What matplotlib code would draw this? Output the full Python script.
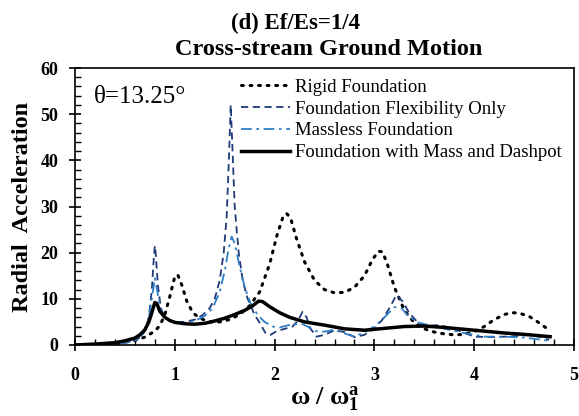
import matplotlib
matplotlib.use("Agg")
import matplotlib.pyplot as plt
from matplotlib.ticker import MultipleLocator

plt.rcParams['font.family'] = ['Liberation Serif', 'DejaVu Serif']
plt.rcParams['mathtext.fontset'] = 'custom'
plt.rcParams['mathtext.rm'] = 'Liberation Serif'
plt.rcParams['mathtext.it'] = 'Liberation Serif:italic'
plt.rcParams['mathtext.bf'] = 'Liberation Serif:bold'

# ---------------- data ----------------
rigid_x = [0, 0.2, 0.4, 0.5, 0.6, 0.7, 0.8, 0.85, 0.9, 0.95, 1.0, 1.03, 1.07, 1.12, 1.18, 1.25,
           1.35, 1.45, 1.55, 1.65, 1.75, 1.85, 1.95, 2.02, 2.08, 2.12, 2.16, 2.22, 2.3, 2.4, 2.5,
           2.6, 2.7, 2.8, 2.9, 2.98, 3.04, 3.08, 3.13, 3.2, 3.3, 3.4, 3.5, 3.6, 3.7, 3.8, 3.9,
           4.0, 4.1, 4.2, 4.3, 4.38, 4.45, 4.55, 4.65, 4.72]
rigid_y = [0, 0.1, 0.3, 0.6, 1.0, 1.7, 3.0, 4.2, 6.5, 10.5, 14.8, 15.2, 13.0, 9.5, 7.0, 5.8,
           5.0, 5.0, 5.5, 6.6, 8.5, 11.5, 17.5, 23.5, 27.5, 28.5, 27.5, 23.0, 18.0, 14.0, 12.0,
           11.3, 11.4, 12.5, 15.0, 18.5, 20.3, 20.2, 17.5, 12.5, 7.5, 4.8, 3.5, 2.8, 2.4, 2.2, 2.3,
           2.9, 4.0, 5.5, 6.6, 7.0, 6.9, 6.2, 4.8, 3.7]

flex_x = [0, 0.2, 0.4, 0.5, 0.6, 0.65, 0.7, 0.74, 0.77, 0.79, 0.8, 0.81, 0.83, 0.86, 0.9, 0.95,
          1.0, 1.1, 1.2, 1.28, 1.35, 1.4, 1.45, 1.49, 1.52, 1.545, 1.56, 1.575, 1.6, 1.64, 1.68,
          1.73, 1.8, 1.86, 1.91, 1.96, 2.02, 2.1, 2.18, 2.24, 2.28, 2.32, 2.36, 2.42, 2.5, 2.6,
          2.7, 2.8, 2.9, 3.0, 3.08, 3.15, 3.22, 3.28, 3.35, 3.45, 3.55, 3.65, 3.75, 3.87, 4.0,
          4.2, 4.4, 4.55, 4.65, 4.75]
flex_y = [0, 0.1, 0.3, 0.5, 1.0, 1.6, 3.0, 6.0, 12.0, 19.0, 21.5, 19.5, 13.0, 8.0, 6.0, 5.3,
          5.0, 5.0, 5.5, 6.5, 8.0, 10.0, 14.0, 20.0, 28.0, 42.0, 52.0, 44.0, 30.0, 20.0, 14.0,
          10.0, 6.5, 4.5, 2.5, 2.2, 3.0, 3.5, 4.0, 5.5, 7.2, 6.0, 3.5, 1.8, 2.2, 3.2,
          2.8, 1.7, 2.2, 3.5, 5.5, 8.0, 10.8, 9.5, 6.9, 4.5, 4.2, 4.3, 3.8, 2.9, 1.8,
          1.7, 1.9, 2.2, 1.8, 1.1]

mless_x = [0, 0.2, 0.4, 0.5, 0.6, 0.65, 0.7, 0.74, 0.77, 0.8, 0.83, 0.86, 0.9, 0.95, 1.0, 1.1,
           1.2, 1.3, 1.38, 1.45, 1.5, 1.54, 1.57, 1.6, 1.65, 1.7, 1.76, 1.83, 1.9, 1.98, 2.05,
           2.12, 2.2, 2.27, 2.33, 2.4, 2.5, 2.6, 2.7, 2.8, 2.9, 3.0, 3.1, 3.2, 3.27, 3.35, 3.45,
           3.6, 3.75, 3.9, 4.1, 4.3, 4.5, 4.65, 4.75]
mless_y = [0, 0.1, 0.3, 0.5, 1.0, 1.6, 3.0, 6.0, 10.0, 14.5, 11.0, 7.5, 6.0, 5.3, 5.0, 4.8,
           5.2, 6.3, 8.0, 11.5, 16.0, 21.0, 23.5, 22.0, 17.0, 12.5, 9.0, 6.5, 5.0, 4.0, 3.8,
           4.2, 4.5, 4.6, 4.0, 3.0, 2.9, 3.3, 2.5, 1.8, 2.8, 4.0, 6.0, 8.2, 8.0, 6.0, 4.8,
           4.0, 3.3, 2.6, 1.8, 1.8, 1.6, 1.2, 0.9]

mass_x = [0, 0.2, 0.4, 0.5, 0.6, 0.65, 0.7, 0.74, 0.77, 0.8, 0.82, 0.85, 0.9, 0.95, 1.0, 1.1,
          1.2, 1.3, 1.4, 1.5, 1.6, 1.7, 1.78, 1.84, 1.88, 1.95, 2.05, 2.15, 2.3, 2.5, 2.7, 2.9,
          3.1, 3.3, 3.5, 3.7, 3.9, 4.1, 4.3, 4.5, 4.76]
mass_y = [0, 0.2, 0.5, 0.9, 1.5, 2.2, 3.3, 5.0, 7.0, 9.2, 9.0, 7.3, 6.0, 5.3, 4.9, 4.6,
          4.5, 4.7, 5.2, 5.8, 6.6, 7.5, 8.5, 9.5, 9.4, 8.3, 7.0, 6.0, 5.0, 4.3, 3.5, 3.2,
          3.6, 4.0, 4.1, 3.8, 3.4, 3.0, 2.6, 2.3, 1.8]

labels = ["Rigid Foundation", "Foundation Flexibility Only", "Massless Foundation",
          "Foundation with Mass and Dashpot"]

# ---------------- figure ----------------
fig = plt.figure(figsize=(5.79, 4.16), dpi=100)
ax = fig.add_axes([0.1295, 0.1707, 0.862, 0.6658])

ax.plot(rigid_x, rigid_y, color='black', linestyle=(0, (0.6, 2.2)), lw=2.2,
        dash_capstyle='round', label=labels[0])
ax.plot(flex_x, flex_y, color='#1f3a78', linestyle=(0, (4, 2.5)), lw=1.3, label=labels[1])
ax.plot(mless_x, mless_y, color='#2f7fc4', linestyle=(0, (6, 2.5, 1.5, 2.5)), lw=1.3,
        label=labels[2])
ax.plot(mass_x, mass_y, color='black', linestyle='-', lw=2.5, label=labels[3])

ax.set_xlim(0, 5)
ax.set_ylim(0, 60)
ax.xaxis.set_major_locator(MultipleLocator(1))
ax.xaxis.set_minor_locator(MultipleLocator(0.2))
ax.yaxis.set_major_locator(MultipleLocator(10))
ax.yaxis.set_minor_locator(MultipleLocator(2))
ax.tick_params(which='major', direction='inout', length=8, width=1.2,
               top=False, right=False, labelsize=13)
ax.tick_params(axis='x', which='major', pad=12)
ax.tick_params(axis='y', which='major', pad=8)
ax.tick_params(which='minor', direction='in', length=4, width=1,
               top=False, right=False)
for lab in ax.get_xticklabels() + ax.get_yticklabels():
    lab.set_fontweight('bold')
for s in ax.spines.values():
    s.set_linewidth(1.2)

ax.set_ylabel("Radial  Acceleration", fontsize=17.5, fontweight='bold', labelpad=5)
ax.set_xlabel(r"$\mathbf{\omega\ /\ \omega_1^a}$", fontsize=19, labelpad=0)

ax.text(0.038, 0.875, "θ=13.25°", transform=ax.transAxes, fontsize=18)

leg = ax.legend(loc='upper left', bbox_to_anchor=(0.325, 0.975), frameon=False,
                fontsize=13.5, handlelength=2.6, handletextpad=0.3, labelspacing=0.25,
                borderpad=0.2, borderaxespad=0)

fig.text(0.51, 0.93, "(d) Ef/Es=1/4", ha='center', fontsize=16.5, fontweight='bold')
fig.text(0.568, 0.868, "Cross-stream Ground Motion", ha='center', fontsize=17.5,
         fontweight='bold')

fig.savefig("out.png", dpi=100)
